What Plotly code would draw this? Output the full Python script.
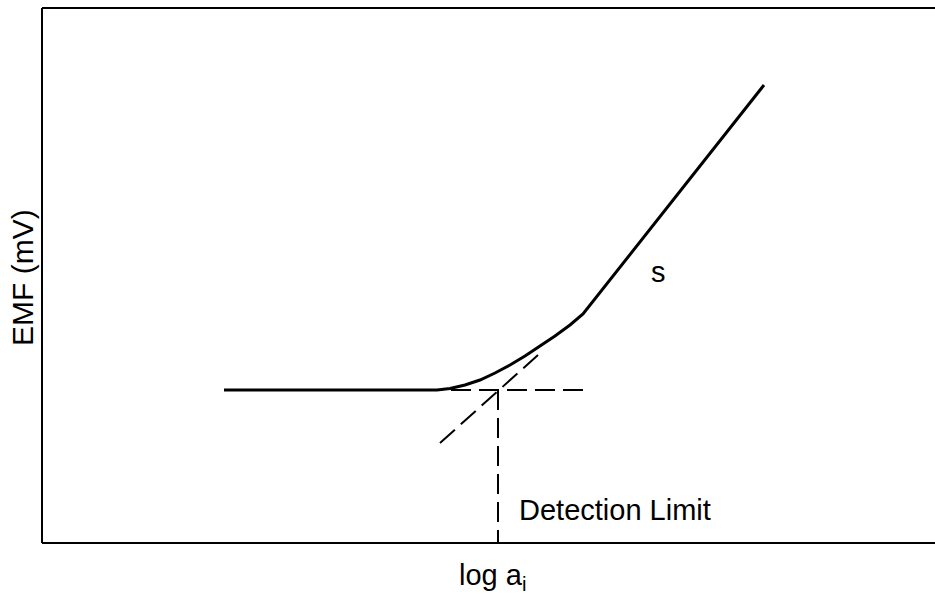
import plotly.graph_objects as go

# Response curve (arbitrary units: x = log a_i, y = EMF)
curve_x = [224, 437, 450, 465, 480, 495, 510, 525, 540, 555, 570, 583, 764]
curve_y = [204, 204, 205.5, 209, 214, 221, 229, 238, 248, 258, 269, 280, 509]

# Extrapolated slope (dashed) and baseline (dashed)
slope_x = [440, 538]
slope_y = [151, 239]
base_x = [423, 586]
base_y = [204, 204]
dl_x = [498, 498]
dl_y = [204, 51]

x_title = "log a<sub>i</sub>"
y_title = "EMF (mV)"
dl_label = "Detection Limit"
slope_label = "s"

FONT = "Liberation Sans, Arial, sans-serif"

fig = go.Figure()
fig.add_trace(go.Scatter(x=curve_x, y=curve_y, mode="lines",
                         line=dict(color="black", width=3), hoverinfo="skip"))
for xs, ys in [(slope_x, slope_y), (base_x, base_y), (dl_x, dl_y)]:
    fig.add_trace(go.Scatter(x=xs, y=ys, mode="lines",
                             line=dict(color="black", width=2, dash="20px,8px"),
                             hoverinfo="skip"))

frame = dict(type="line", xref="paper", yref="paper",
             line=dict(color="black", width=2), layer="above")

fig.update_layout(
    width=935, height=594,
    margin=dict(l=42, r=0, t=8, b=51),
    plot_bgcolor="white", paper_bgcolor="white",
    showlegend=False,
    font=dict(family=FONT, size=29, color="black"),
    xaxis=dict(range=[42, 935], showgrid=False, zeroline=False,
               showticklabels=False, ticks="", showline=False),
    yaxis=dict(range=[51, 586], showgrid=False, zeroline=False,
               showticklabels=False, ticks="", showline=False),
    shapes=[
        dict(frame, x0=0, x1=0, y0=0, y1=1),
        dict(frame, x0=0, x1=1.01, y0=1, y1=1),
        dict(frame, x0=0, x1=1.01, y0=0, y1=0),
    ],
    annotations=[
        dict(x=517, y=84, xref="x", yref="y", text=dl_label, showarrow=False,
             xanchor="left", yanchor="middle", font=dict(size=29)),
        dict(x=658, y=322, xref="x", yref="y", text=slope_label, showarrow=False,
             xanchor="center", yanchor="middle", font=dict(size=29)),
        dict(x=0.505, y=-0.064, xref="paper", yref="paper", text=x_title,
             showarrow=False, xanchor="center", yanchor="middle",
             font=dict(size=29)),
        dict(x=-0.0224, y=317, xref="paper", yref="y", text=y_title,
             showarrow=False, xanchor="center", yanchor="middle",
             textangle=-90, font=dict(size=30)),
    ],
)

fig.write_html("out.html")
